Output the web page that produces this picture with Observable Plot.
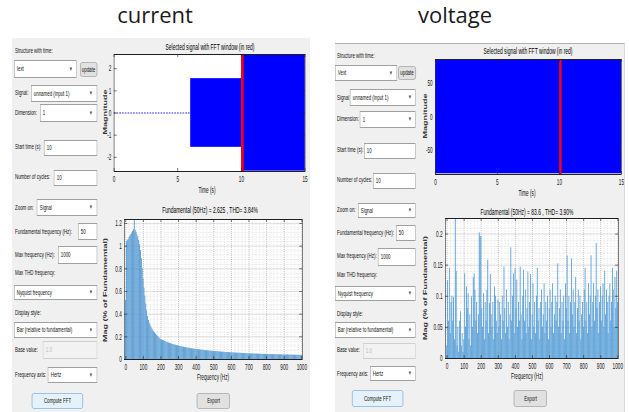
<!DOCTYPE html>
<html><head><meta charset="utf-8">
<script src="https://cdn.jsdelivr.net/npm/d3@7"></script>
<script src="https://cdn.jsdelivr.net/npm/@observablehq/plot@0.6"></script>
<style>
html,body{margin:0;padding:0;background:#fff;width:629px;height:412px;overflow:hidden;font-family:"Liberation Sans",Arial,sans-serif;}
.heading{position:absolute;font-family:"Open Sans",sans-serif;font-size:22px;color:#1a1a1a;line-height:1;white-space:nowrap;transform:translate(-50%,0);}
.panel{position:absolute;background:#f0f0f0;transform-origin:0 0;overflow:hidden;}
.lbl{position:absolute;font-size:8px;line-height:10px;color:#111;white-space:nowrap;}
.ctl{position:absolute;box-sizing:border-box;font-size:8px;color:#111;white-space:nowrap;overflow:hidden;}
.dd,.in{background:#fff;border:1px solid #a0a0a0;padding-left:4px;}
.dis{background:#f2f2f2;border:1px solid #cfcfcf;padding-left:4px;color:#b8b8b8;}
.arrow{position:absolute;right:7px;top:0;font-size:6px;color:#333;}
.btn{background:#e1e1e1;border:1px solid #a8a8a8;border-radius:3px;text-align:center;}
.btnf{background:#e5f1fb;border:1px solid #7fb5e6;border-radius:3px;text-align:center;}
.ptitle{position:absolute;font-size:9px;color:#000;white-space:nowrap;transform:translate(-50%,-50%);}
.xlab{position:absolute;font-size:8.5px;color:#111;white-space:nowrap;transform:translate(-50%,-50%);}
.ylab{position:absolute;font-size:9px;font-weight:bold;color:#333;white-space:nowrap;transform:translate(-50%,-50%) rotate(-90deg);}
</style>
</head><body>
<script>
// ---------------- DATA ----------------
const freqStep = 5; // Hz between spectrum bars
const currentMag = [
  0.52,1.04,1.05,1.06,1.075,1.09,1.10,1.115,1.13,1.145,
  1.30,1.14,1.12,1.10,1.08,1.05,1.01,0.96,0.89,0.80,
  0.71,0.63,0.56,0.49,0.43,0.38,0.345,0.32,0.30,0.285,
  0.27,0.258,0.246,0.235,0.225,0.215,0.206,0.198,0.19,0.183,
  0.176,
  0.173,0.169,0.165,0.161,0.158,0.154,0.151,0.148,0.145,0.142,
  0.139,0.137,0.134,0.131,0.129,0.127,0.125,0.122,0.120,0.118,
  0.116,0.115,0.113,0.111,0.109,0.108,0.106,0.104,0.103,0.101,
  0.100,0.099,0.097,0.096,0.095,0.093,0.092,0.091,0.090,0.089,
  0.088,0.087,0.086,0.085,0.084,0.083,0.082,0.081,0.080,0.079,
  0.078,0.077,0.076,0.076,0.075,0.074,0.073,0.072,0.072,0.071,
  0.070,0.070,0.069,0.068,0.068,0.067,0.066,0.066,0.065,0.065,
  0.064,0.063,0.063,0.062,0.062,0.061,0.061,0.060,0.060,0.059,
  0.059,0.058,0.058,0.057,0.057,0.056,0.056,0.055,0.055,0.055,
  0.054,0.054,0.053,0.053,0.053,0.052,0.052,0.051,0.051,0.051,
  0.050,0.050,0.050,0.049,0.049,0.049,0.048,0.048,0.048,0.047,
  0.047,0.047,0.046,0.046,0.046,0.046,0.045,0.045,0.045,0.044,
  0.044,0.044,0.044,0.043,0.043,0.043,0.043,0.042,0.042,0.042,
  0.042,0.041,0.041,0.041,0.041,0.040,0.040,0.040,0.040,0.039,
  0.039,0.039,0.039,0.039,0.038,0.038,0.038,0.038,0.038,0.037,
  0.037,0.037,0.037,0.037,0.036,0.036,0.036,0.036,0.036,0.036
];
const voltageMag = [
  0.02,0.125,0.06,0.145,0.04,0.09,0.10,0.06,0.098,0.03,
  0.30,0.14,0.02,0.05,0.01,0.06,0.075,0.02,0.04,0.01,
  0.03,0.136,0.05,0.115,0.08,0.104,0.03,0.07,0.02,0.099,
  0.05,0.13,0.136,0.11,0.06,0.09,0.04,0.07,0.202,0.196,
  0.196,0.08,0.05,0.104,0.03,0.09,0.06,0.11,0.158,0.04,
  0.088,0.135,0.07,0.05,0.09,0.03,0.115,0.10,0.06,0.04,
  0.094,0.05,0.09,0.07,0.03,0.10,0.06,0.147,0.08,0.04,
  0.11,0.05,0.09,0.03,0.07,0.178,0.06,0.10,0.136,0.04,
  0.145,0.08,0.126,0.05,0.09,0.06,0.147,0.07,0.03,0.10,
  0.142,0.06,0.11,0.04,0.08,0.139,0.05,0.09,0.135,0.03,
  0.07,0.12,0.05,0.09,0.04,0.10,0.145,0.06,0.08,0.03,
  0.09,0.11,0.05,0.07,0.12,0.04,0.09,0.06,0.10,0.03,
  0.08,0.11,0.05,0.09,0.12,0.04,0.07,0.10,0.06,0.09,
  0.152,0.05,0.08,0.11,0.04,0.09,0.06,0.10,0.03,0.12,
  0.08,0.165,0.06,0.10,0.04,0.09,0.16,0.07,0.11,0.05,
  0.09,0.13,0.04,0.08,0.11,0.06,0.10,0.03,0.07,0.09,
  0.05,0.11,0.145,0.06,0.09,0.04,0.12,0.07,0.10,0.165,
  0.05,0.09,0.12,0.06,0.10,0.185,0.08,0.11,0.04,0.09,
  0.115,0.06,0.10,0.12,0.05,0.14,0.07,0.11,0.09,0.04,
  0.10,0.12,0.06,0.09,0.145,0.11,0.05,0.13,0.08,0.14,
  0.09
];
const freqTicks = [0,100,200,300,400,500,600,700,800,900,1000];
const timeTicks = [0,5,10,15];
const currentSpecYTicks = [0,0.2,0.4,0.6,0.8,1,1.2];
const voltageSpecYTicks = [0,0.05,0.1,0.15,0.2];
const currentTimeYTicks = [-2,-1,0,1,2];
const voltageTimeYTicks = [-50,0,50];
const currentBlocks = [{t0:6,t1:10,lo:-1.55,hi:1.55},{t0:10,t1:15,lo:-2.625,hi:2.625}];
const currentZero = [{t0:0,t1:6,v:0}];
const voltageBlocks = [{t0:0,t1:15,lo:-85.5,hi:85.5}];
const fftWindow = [{t0:10,t1:10.2}];
const headings = ["current","voltage"];
const guiLabels = ["Structure with time:","Signal:","Dimension:","Start time (s):","Number of cycles:","Zoom on:",
  "Fundamental frequency (Hz):","Max frequency (Hz):","Max THD frequency:","Display style:","Base value:","Frequency axis:"];
const currentTitles = {time:"Selected signal with FFT window (in red)", spec:"Fundamental (50Hz) = 2.625 , THD= 3.84%"};
const voltageTitles = {time:"Selected signal with FFT window (in red)", spec:"Fundamental (50Hz) = 83.6 , THD= 3.90%"};

// ---------------- LAYOUT ----------------
const S = 0.55; // horizontal squeeze of the screenshot panels

const panels = [
 { heading:{text:headings[0], cx:155, top:3}, x:12, y:38, w:298, h:374, border:false,
   labelX:15, labelY:[51,93,113,147,177,208,232,255,273,313,350,375],
   controls:[
    ["dd","Iext",14,60,77,78],["btn","update",80,62,97,77],["dd","unnamed (input 1)",31,85,97,102],
    ["dd","1",40,104,97,122],["in","10",44,140,97,156],["in","10",54,170,97,186],
    ["dd","Signal",37,199,97,216],["in","50",78,223,97,240],["in","1000",58,246,97,264],
    ["dd","Nyquist frequency",14,285,97,300],["dd","Bar (relative to fundamental)",14,322,97,338],
    ["dis","1.0",43,341,97,359],["dd","Hertz",48,367,97,383],
    ["btnf","Compute FFT",32,393,83,409],["btn","Export",197,393,230,409]],
   time:{frame:[114,54,305,171], xDomain:[0,15], yDomain:[-2.64,2.64], yTicks:currentTimeYTicks,
     title:[currentTitles.time,210,47], xlab:["Time (s)",207,190], ylab:["Magnitude",105,112],
     marks:()=>[
       Plot.rect(currentBlocks,{x1:"t0",x2:"t1",y1:"lo",y2:"hi",fill:"#0000ff"}),
       Plot.ruleY(currentZero,{y:"v",x1:"t0",x2:"t1",stroke:"#2a2ad8",strokeWidth:1.2,strokeDasharray:"3,2"}),
       Plot.rect(fftWindow,{x1:"t0",x2:"t1",fill:"#ff0000"})]},
   spec:{frame:[124,219,302,359], xDomain:[-7,1004], yDomain:[0,1.235], yTicks:currentSpecYTicks, minorY:0.04,
     title:[currentTitles.spec,210,210], xlab:["Frequency (Hz)",213,377], ylab:["Mag (% of Fundamental)",105,290],
     values:currentMag, fill:"#5599d2", half:2.5}
 },
 { heading:{text:headings[1], cx:455, top:3}, x:335, y:43, w:290, h:369, border:true,
   labelX:337, labelY:[55,97,118,149,179,209,232,255,274,313,349,373],
   controls:[
    ["dd","Vext",335,64,397,80],["btn","update",398,65,416,79],["dd","unnamed (input 1)",350,88,416,105],
    ["dd","1",360,110,416,127],["in","10",364,142,416,158],["in","10",373,172,416,188],
    ["dd","Signal",358,202,416,217],["in","50",396,224,416,240],["in","1000",378,247,416,265],
    ["dd","Nyquist frequency",335,285,416,300],["dd","Bar (relative to fundamental)",335,321,416,337],
    ["dis","1.0",363,342,416,358],["dd","Hertz",370,365,416,380],
    ["btnf","Compute FFT",352,389,403,406],["btn","Export",514,389,547,406]],
   time:{frame:[435,58,621,173], xDomain:[0,15], yDomain:[-86.5,86.5], yTicks:voltageTimeYTicks,
     title:[voltageTitles.time,528,50], xlab:["Time (s)",527,192], ylab:["Magnitude",425,115],
     marks:()=>[
       Plot.rect(voltageBlocks,{x1:"t0",x2:"t1",y1:"lo",y2:"hi",fill:"#0000ff"}),
       Plot.rect(fftWindow,{x1:"t0",x2:"t1",fill:"#ff0000"})]},
   spec:{frame:[445,217,618,357], xDomain:[-10,1003], yDomain:[0,0.225], yTicks:voltageSpecYTicks, minorY:0.01,
     title:[voltageTitles.spec,527,211], xlab:["Frequency (Hz)",527,375], ylab:["Mag (% of Fundamental)",425,287],
     values:voltageMag, fill:"#4f9ad6", half:2.4}
 }
];

function div(parent, cls, text, style){
  const d=document.createElement("div"); d.className=cls; if(text!=null) d.textContent=text;
  Object.assign(d.style, style||{}); parent.appendChild(d); return d;
}

const fontFam = '"Liberation Sans", Arial, sans-serif';

function axesPlot(P, c, marks, fmtX, fmtY){
  const mL=16, mR=4, mT=4, mB=14;
  const fw=(c.frame[2]-c.frame[0])/S, fh=c.frame[3]-c.frame[1];
  const xt = c.xTicks, yt = c.yTicks;
  const tk = {stroke:"#262626", strokeWidth:0.8};
  const svg = Plot.plot({
    width: fw+(mL+mR)/S, height: fh+mT+mB,
    marginLeft: mL/S, marginRight: mR/S, marginTop: mT, marginBottom: mB,
    style:{background:"transparent", fontFamily:fontFam, fontSize:"8px", color:"#1a1a1a", overflow:"visible"},
    x:{domain:c.xDomain, axis:null}, y:{domain:c.yDomain, axis:null},
    marks:[
      Plot.frame({fill:"white", stroke:null}),
      ...marks,
      Plot.tickX(xt,{x:d=>d, insetTop:fh-3, ...tk}),
      Plot.tickX(xt,{x:d=>d, insetBottom:fh-3, ...tk}),
      Plot.tickY(yt,{y:d=>d, insetRight:fw-3/S, ...tk}),
      Plot.tickY(yt,{y:d=>d, insetLeft:fw-3/S, ...tk}),
      Plot.axisX({ticks:xt, tickSize:0, tickPadding:4, tickFormat:fmtX, label:null, fontSize:8.5}),
      Plot.axisY({ticks:yt, tickSize:0, tickPadding:5, tickFormat:fmtY, label:null, fontSize:8.5}),
      Plot.frame({stroke:"#1f1f1f", strokeWidth:1})
    ]
  });
  Object.assign(svg.style,{position:"absolute", left:((c.frame[0]-mL-P.x)/S)+"px", top:(c.frame[1]-mT-P.y)+"px"});
  return svg;
}

function texts(el, P, c){
  div(el,"ptitle",c.title[0],{left:((c.title[1]-P.x)/S)+"px", top:(c.title[2]-P.y)+"px"});
  div(el,"xlab",c.xlab[0],{left:((c.xlab[1]-P.x)/S)+"px", top:(c.xlab[2]-P.y)+"px"});
  div(el,"ylab",c.ylab[0],{left:((c.ylab[1]-P.x)/S)+"px", top:(c.ylab[2]-P.y)+"px"});
}

for (const P of panels){
  div(document.body,"heading",P.heading.text,{left:P.heading.cx+"px", top:P.heading.top+"px"});
  const el = div(document.body,"panel",null,{left:P.x+"px", top:P.y+"px", width:(P.w/S)+"px", height:P.h+"px",
    transform:`scaleX(${S})`, borderTop:P.border?"1px solid #b0b0b0":"none", borderRight:P.border?"1px solid #c8c8c8":"none", boxSizing:"border-box"});
  guiLabels.forEach((t,i)=>div(el,"lbl",t,{left:((P.labelX-P.x)/S)+"px", top:(P.labelY[i]-5-P.y)+"px"}));
  for (const [k,t,x1,y1,x2,y2] of P.controls){
    const h=y2-y1;
    const d=div(el,"ctl "+k,null,{left:((x1-P.x)/S)+"px", top:(y1-P.y)+"px", width:((x2-x1)/S)+"px", height:h+"px", lineHeight:(h-2)+"px"});
    const s=document.createElement("span"); s.textContent=t; d.appendChild(s);
    if(k==="dd"){ div(d,"arrow","▼",{lineHeight:(h-2)+"px"}); }
  }
  const T=P.time;
  el.appendChild(axesPlot(P, {...T, xTicks:timeTicks}, T.marks(), d=>String(d), d=>String(d)));
  texts(el,P,T);
  const Sp=P.spec;
  const bars = Sp.values.map((v,i)=>({f:i*freqStep, v}));
  const minorX = d3.range(0,1001,20);
  const minorY = d3.range(0, Sp.yDomain[1]+1e-9, Sp.minorY);
  const specMarks = [
    Plot.gridX({ticks:minorX, stroke:"#c4c4c4", strokeOpacity:1, strokeWidth:0.6, strokeDasharray:"1,1.5"}),
    Plot.gridY({ticks:minorY, stroke:"#c4c4c4", strokeOpacity:1, strokeWidth:0.6, strokeDasharray:"1,1.5"}),
    Plot.gridX({ticks:freqTicks, stroke:"#a8a8a8", strokeOpacity:1, strokeWidth:0.7, strokeDasharray:"1,1"}),
    Plot.gridY({ticks:Sp.yTicks, stroke:"#a8a8a8", strokeOpacity:1, strokeWidth:0.7, strokeDasharray:"1,1"}),
    Plot.rectY(bars,{x1:d=>d.f-Sp.half, x2:d=>d.f+Sp.half, y:"v", fill:Sp.fill, clip:true})
  ];
  el.appendChild(axesPlot(P, {...Sp, xTicks:freqTicks}, specMarks, d=>String(d), d3.format("~g")));
  texts(el,P,Sp);
}
</script>
</body></html>
